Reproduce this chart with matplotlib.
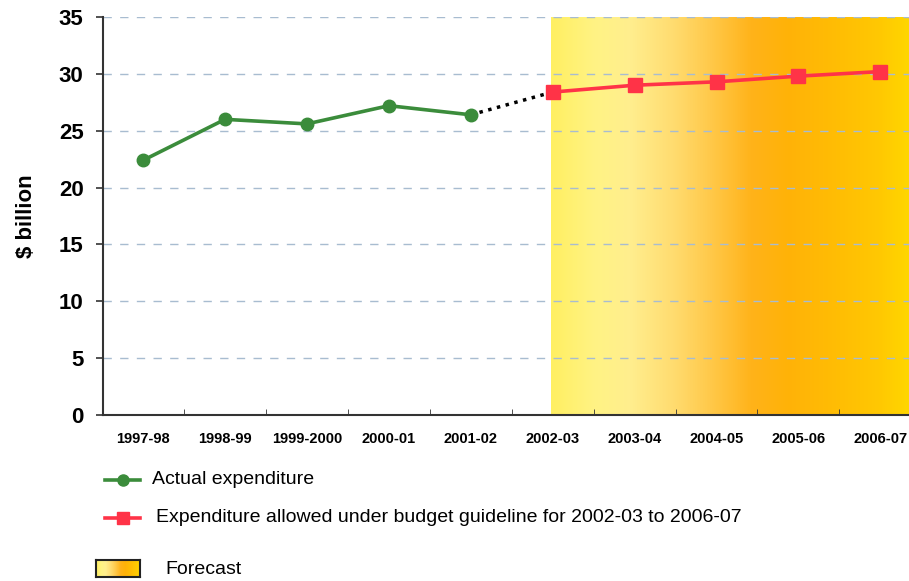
import numpy as np
import matplotlib
matplotlib.use("Agg")
import matplotlib.pyplot as plt
from matplotlib.colors import LinearSegmentedColormap
from matplotlib.lines import Line2D

plt.rcParams['font.family'] = ['Liberation Sans', 'DejaVu Sans']

categories = ["1997-98", "1998-99", "1999-2000", "2000-01", "2001-02",
              "2002-03", "2003-04", "2004-05", "2005-06", "2006-07"]
actual = [22.4, 26.0, 25.6, 27.2, 26.4]
guideline = [28.4, 29.0, 29.3, 29.8, 30.2]
y_ticks = [0, 5, 10, 15, 20, 25, 30, 35]

x_actual = np.arange(len(actual))
x_guide = np.arange(len(actual), len(categories))

fig = plt.figure(figsize=(9.09, 5.81), dpi=100)
ax = fig.add_axes([103/909, 166/581, (909-103)/909, 398/581])

xmin, xmax = -0.49, 9.35

# forecast gradient
cmap = LinearSegmentedColormap.from_list("fc", [
    (0.00, "#FFEF62"), (0.12, "#FFF384"), (0.22, "#FFEE8E"),
    (0.34, "#FFDC70"), (0.45, "#FFC848"), (0.56, "#FFB31A"),
    (0.66, "#FFB208"), (0.80, "#FFBD04"), (0.92, "#FFC802"),
    (1.00, "#FFD600")])
grad = np.linspace(0, 1, 400).reshape(1, -1)
ax.imshow(grad, cmap=cmap, aspect='auto', extent=[x_guide[0] - 0.02, xmax, 0, 35],
          zorder=0, interpolation='bilinear')

for y in y_ticks[1:]:
    ax.axhline(y, color="#A8BCD0", lw=1.0, ls=(0, (6, 6)), zorder=1)

ax.plot([x_actual[-1], x_guide[0]], [actual[-1], guideline[0]], color="black",
        lw=2.5, ls=(0, (1, 1.6)), zorder=2)
ax.plot(x_actual, actual, color="#3B8C3B", lw=2.6, marker='o', ms=9, zorder=3)
ax.plot(x_guide, guideline, color="#FF3347", lw=2.6, marker='s', ms=10, zorder=3)

ax.set_xticks(np.arange(len(categories)))
ax.set_xticklabels(categories, fontsize=10.5, fontweight='bold')
ax.tick_params(axis='x', length=0, pad=12)
ax.set_xticks(np.arange(len(categories) - 1) + 0.5, minor=True)
ax.tick_params(axis='x', which='minor', direction='in', length=4, color="#333333")

ax.set_yticks(y_ticks)
ax.set_yticklabels([str(v) for v in y_ticks], fontsize=16, fontweight='bold')
ax.tick_params(axis='y', length=5, width=1.2, color="#333333", pad=9)
ax.set_ylabel("$ billion", fontsize=16, fontweight='bold', labelpad=16)

ax.set_xlim(xmin, xmax)
ax.set_ylim(0, 35)

for s in ['top', 'right']:
    ax.spines[s].set_visible(False)
for s in ['left', 'bottom']:
    ax.spines[s].set_color("#333333")
    ax.spines[s].set_linewidth(1.5)

# legend
def fx(px):
    return px / 909
def fy(py):
    return 1 - py / 581

fig.add_artist(Line2D([fx(105), fx(140)], [fy(480), fy(480)], color="#3B8C3B", lw=2.6,
                      transform=fig.transFigure))
fig.add_artist(Line2D([fx(122.5)], [fy(480)], color="#3B8C3B", marker='o', ms=8,
                      transform=fig.transFigure))
fig.text(fx(152), fy(479), "Actual expenditure", fontsize=14, va='center', ha='left')

fig.add_artist(Line2D([fx(105), fx(140)], [fy(518), fy(518)], color="#FF3347", lw=2.6,
                      transform=fig.transFigure))
fig.add_artist(Line2D([fx(122.5)], [fy(518)], color="#FF3347", marker='s', ms=9,
                      transform=fig.transFigure))
fig.text(fx(156), fy(518), "Expenditure allowed under budget guideline for 2002-03 to 2006-07",
         fontsize=14, va='center', ha='left')

lax = fig.add_axes([fx(96), fy(577), fx(140) - fx(96), fy(560) - fy(577)])
lax.imshow(grad, cmap=cmap, aspect='auto', extent=[0, 1, 0, 1])
lax.set_xticks([]); lax.set_yticks([])
for s in lax.spines.values():
    s.set_color("#222222"); s.set_linewidth(1.5)
fig.text(fx(165), fy(569), "Forecast", fontsize=14, va='center', ha='left')

fig.savefig("out.png", dpi=100)
